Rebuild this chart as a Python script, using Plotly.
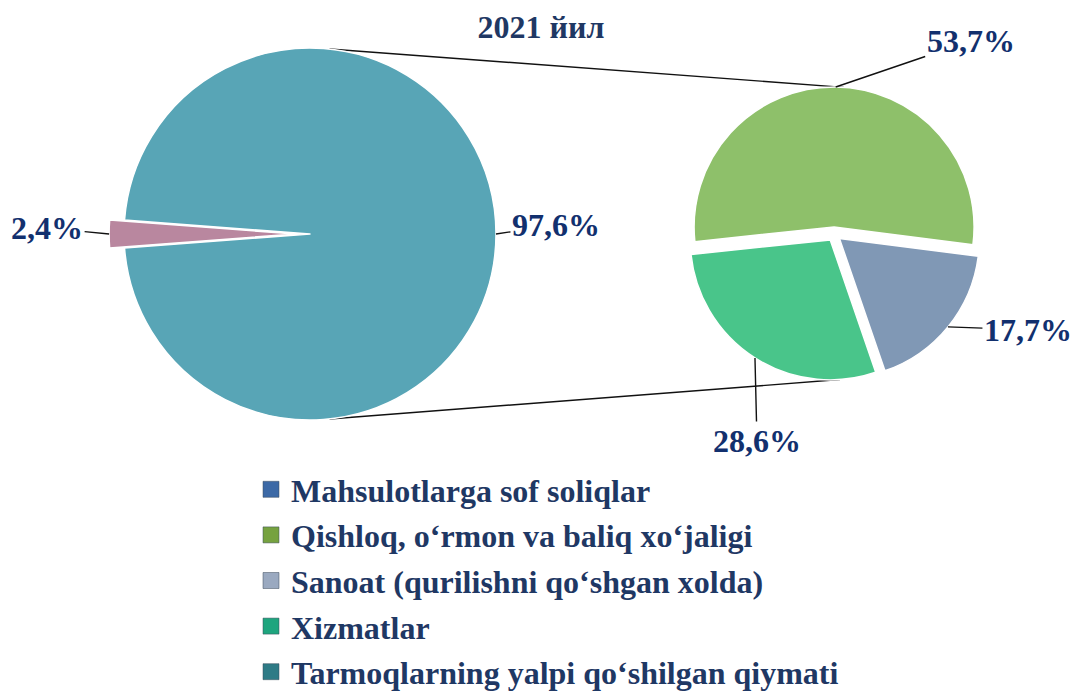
import math
import plotly.graph_objects as go

W, H = 1079, 691
OFF = 8  # page body margin: the figure is drawn 8px right/down on the page

TITLE = "2021 йил"

# left pie: whole value added split
total_labels = ["Tarmoqlarning yalpi qo‘shilgan qiymati", "Mahsulotlarga sof soliqlar"]
total_values = [97.6, 2.4]
total_colors = ["#58A5B6", "#B9879F"]

# right pie: breakdown of the 97.6% part
sector_labels = ["Qishloq, o‘rmon va baliq xo‘jaligi",
                 "Sanoat (qurilishni qo‘shgan xolda)",
                 "Xizmatlar"]
sector_values = [53.7, 17.7, 28.6]
sector_colors = ["#8EC06A", "#8098B5", "#49C58A"]

legend_names = ["Mahsulotlarga sof soliqlar",
                "Qishloq, o‘rmon va baliq xo‘jaligi",
                "Sanoat (qurilishni qo‘shgan xolda)",
                "Xizmatlar",
                "Tarmoqlarning yalpi qo‘shilgan qiymati"]
legend_colors = ["#3C69A6", "#76A240", "#9AA9C0", "#1EA57E", "#2E7B86"]

NAVY = "#12306E"
TXT = "#1F3864"
FONT = "Liberation Serif"

# geometry, in page pixels
L_CX, L_CY, L_R, L_PULL, L_ROT = 310, 234, 186, 0.08, -85.68
R_CX, R_CY, R_R, R_PULL, R_ROT = 834, 234, 140, 0.05, -96


def fx(px):
    return (px - OFF) / W


def fy(py):
    return 1 - (py - OFF) / H


def domain(cx, cy, r, pull):
    half = r * (1 + pull)
    return dict(x=[fx(cx - half), fx(cx + half)], y=[fy(cy + half), fy(cy - half)])


def bisectors(values, rot):
    tot = sum(values)
    out, acc = [], 0.0
    for v in values:
        out.append(rot + 360 * (acc + v / 2) / tot)
        acc += v
    return out


def point(cx, cy, r, ang):
    a = math.radians(ang)
    return cx + r * math.sin(a), cy - r * math.cos(a)


def fmt(v):
    return f"{v:.1f}".replace(".", ",") + "%"


fig = go.Figure()

total_pulls = [0, L_PULL]
fig.add_trace(go.Pie(
    labels=total_labels, values=total_values, sort=False, direction="clockwise",
    rotation=L_ROT, pull=total_pulls, textinfo="none", hoverinfo="label+percent",
    marker=dict(colors=total_colors, line=dict(color="white", width=1.5)),
    domain=domain(L_CX, L_CY, L_R, L_PULL), showlegend=False,
))
fig.add_trace(go.Pie(
    labels=sector_labels, values=sector_values, sort=False, direction="clockwise",
    rotation=R_ROT, pull=[R_PULL] * 3, textinfo="none", hoverinfo="label+percent",
    marker=dict(colors=sector_colors, line=dict(color="white", width=1.5)),
    domain=domain(R_CX, R_CY, R_R, R_PULL), showlegend=False,
))

# legend entries
for i, (name, col) in enumerate(zip(legend_names, legend_colors)):
    fig.add_trace(go.Scatter(
        x=[None], y=[None], mode="markers", name=f"<b>{name}</b>",
        legendgroup=f"g{i}",
        marker=dict(symbol="square", size=16, color=col,
                    line=dict(color="#3a4a5a", width=0.5)),
    ))

# data labels with leader lines
labels = []
total_offsets = [(60, -9), (-62, -6)]
for v, ang, p, (ox, oy) in zip(total_values, bisectors(total_values, L_ROT),
                               total_pulls, total_offsets):
    px, py = point(L_CX, L_CY, L_R * (1 + p), ang)
    labels.append((px, py, ox, oy, fmt(v)))
sector_offsets = [(135, -46), (80, 3), (2, 83)]
for v, ang, (ox, oy) in zip(sector_values, bisectors(sector_values, R_ROT), sector_offsets):
    px, py = point(R_CX, R_CY, R_R * (1 + R_PULL), ang)
    labels.append((px, py, ox, oy, fmt(v)))

for px, py, ox, oy, t in labels:
    fig.add_annotation(
        x=fx(px), y=fy(py), xref="paper", yref="paper",
        ax=ox, ay=oy, text=f"<b>{t}</b>",
        showarrow=True, arrowhead=0, arrowwidth=1.4, arrowcolor="#111",
        standoff=0, startstandoff=0,
        font=dict(family=FONT, size=32, color=NAVY),
    )

# connector lines between the two pies
lt = point(L_CX, L_CY, L_R, 6)
lb = point(L_CX, L_CY, L_R, 174)
rt = point(R_CX, R_CY, R_R, 4)
rt = (rt[0], rt[1] - R_PULL * R_R)
rb = point(R_CX, R_CY, R_R, 176)
po = point(0, 0, R_PULL * R_R, bisectors(sector_values, R_ROT)[2])
rb = (rb[0] + po[0], rb[1] + po[1])
for (x0, y0), (x1, y1) in [(lt, rt), (lb, rb)]:
    fig.add_shape(type="line", xref="paper", yref="paper", layer="below",
                  x0=fx(x0), y0=fy(y0), x1=fx(x1), y1=fy(y1),
                  line=dict(color="#111", width=1.4))

fig.update_layout(
    width=W, height=H,
    margin=dict(l=0, r=0, t=0, b=0, autoexpand=False),
    paper_bgcolor="white", plot_bgcolor="white",
    title=dict(text=f"<b>{TITLE}</b>", x=fx(541), xanchor="center",
               y=fy(27), yanchor="middle",
               font=dict(family=FONT, size=32, color=TXT)),
    xaxis=dict(visible=False), yaxis=dict(visible=False),
    legend=dict(x=fx(251), y=fy(462), xanchor="left", yanchor="top",
                orientation="v", tracegroupgap=1, bgcolor="rgba(0,0,0,0)",
                font=dict(family=FONT, size=32, color=TXT)),
    hovermode=False,
)

fig.write_html("out.html")
